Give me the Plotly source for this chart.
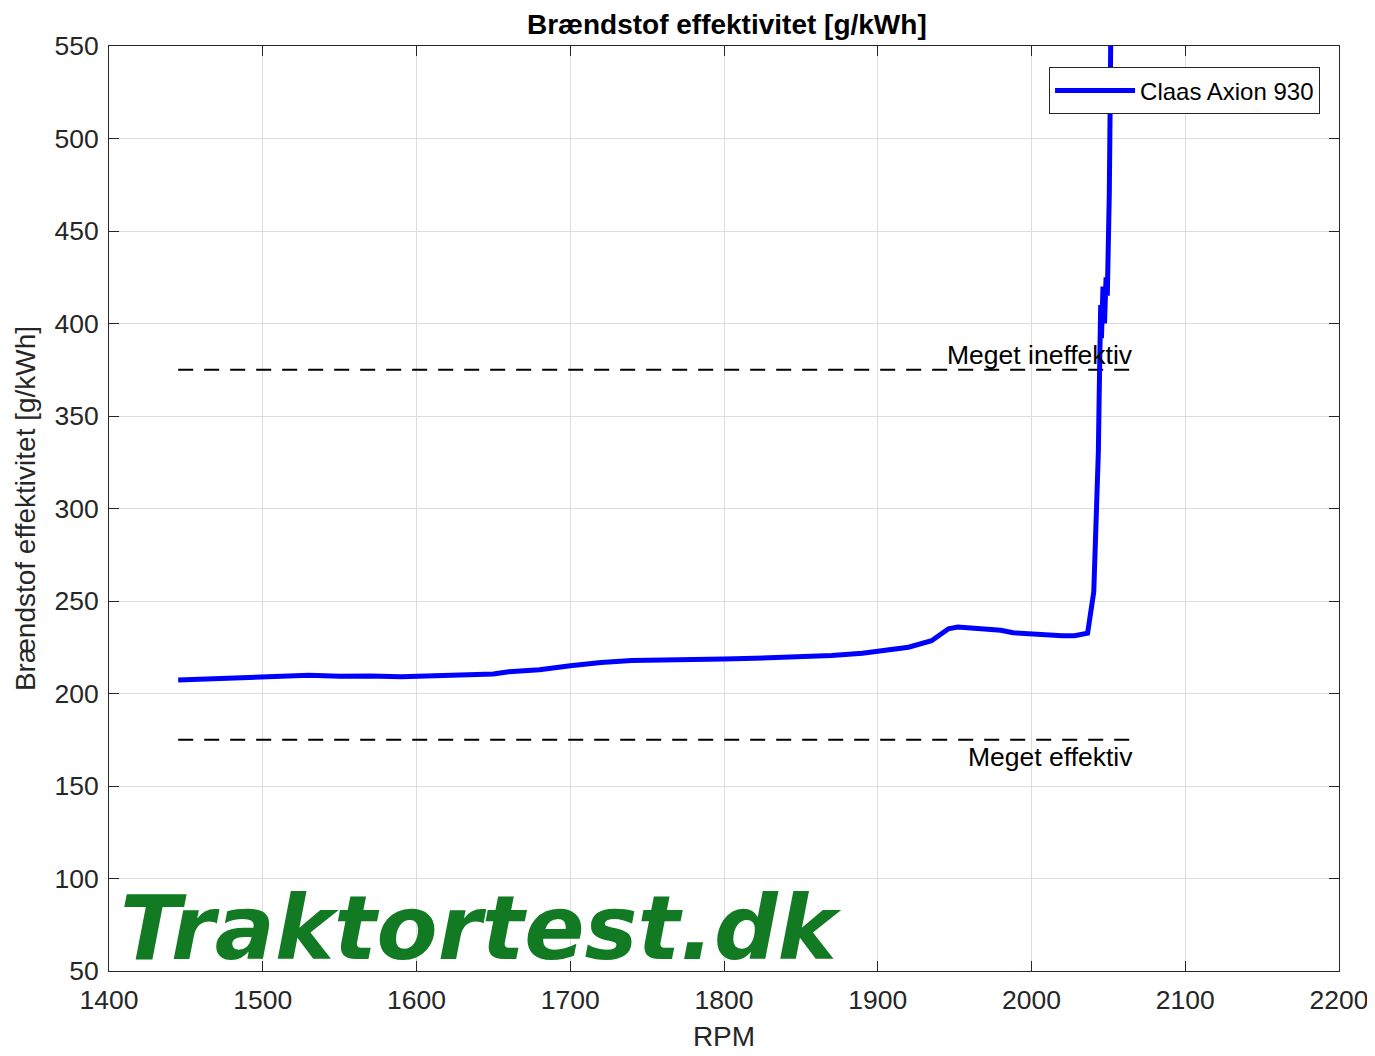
import plotly.graph_objects as go

# RPM and fuel efficiency
rpm = [1445, 1455, 1470, 1485, 1500, 1515, 1530, 1550, 1570, 1590, 1600, 1615,
       1630, 1650, 1660, 1680, 1700, 1720, 1740, 1760, 1780, 1800, 1820, 1850,
       1870, 1890, 1905, 1920, 1935, 1941, 1946, 1952, 1960, 1970, 1980, 1988,
       2000, 2010, 2020, 2028, 2033, 2036.5, 2040.5, 2042.5, 2043.5, 2044,
       2045, 2045.5, 2046.5, 2047.5, 2048.5, 2049.3, 2050, 2050.6, 2051.3, 2052]
bsfc = [207.3, 207.6, 208.3, 208.4, 208.8, 209.6, 209.8, 209.3, 209.5, 209.0, 209.3, 209.6,
        210.3, 210.6, 211.8, 212.8, 215.0, 216.8, 217.8, 217.9, 218.2, 218.6, 219.0, 219.8,
        220.5, 221.8, 223.2, 225.0, 228.5, 232.5, 235.0, 235.9, 235.3, 234.9, 234.2, 232.8,
        232.0, 231.6, 231.2, 231.2, 231.8, 232.6, 255.0, 300.0, 331.0, 360.0,
        410.0, 392.0, 420.0, 400.0, 425.0, 415.0, 440.0, 470.0, 530.0, 600.0]

ref_rpm = [1445, 2067]
ineffektiv = [375, 375]
effektiv = [175, 175]

fig = go.Figure()

fig.add_trace(go.Scatter(x=ref_rpm, y=ineffektiv, mode='lines', showlegend=False,
                         line=dict(color='black', width=2, dash='15px,11px')))
fig.add_trace(go.Scatter(x=ref_rpm, y=effektiv, mode='lines', showlegend=False,
                         line=dict(color='black', width=2, dash='15px,11px')))
fig.add_trace(go.Scatter(x=rpm, y=bsfc, mode='lines', name='Claas Axion 930',
                         line=dict(color='#0000ff', width=5)))

fig.add_annotation(x=ref_rpm[1], y=ineffektiv[0], text='Meget ineffektiv', showarrow=False,
                   xanchor='right', yanchor='bottom', yshift=-2,
                   font=dict(size=26.5, color='black'))
fig.add_annotation(x=ref_rpm[1], y=effektiv[0], text='Meget effektiv', showarrow=False,
                   xanchor='right', yanchor='top', yshift=0,
                   font=dict(size=26.5, color='black'))

# watermark
fig.add_annotation(x=0.0076, y=-0.012, xref='paper', yref='paper', xanchor='left', yanchor='bottom',
                   text='Traktortest.dk', showarrow=False,
                   font=dict(family='DejaVu Sans', size=89, color='#117a22',
                             weight='bold', style='italic'))

axis_common = dict(showgrid=True, gridcolor='#dcdcdc', gridwidth=1, zeroline=False,
                   showline=True, linecolor='#262626', linewidth=1, mirror='ticks',
                   ticks='inside', ticklen=10, tickcolor='#262626', automargin=False,
                   ticklabeloverflow='allow',
                   tickfont=dict(size=26.5, color='#262626'))

fig.update_xaxes(range=[1400, 2200], dtick=100, ticklabelstandoff=5,
                 title=dict(text='RPM', font=dict(size=28, color='#262626'), standoff=12),
                 **axis_common)
fig.update_yaxes(range=[50, 550], dtick=50, ticklabelstandoff=4,
                 title=dict(text='Brændstof effektivitet [g/kWh]',
                            font=dict(size=28, color='#262626'), standoff=10), **axis_common)

# page body adds an 8px margin, so the figure is sized to fit inside the window
fig.update_layout(
    width=1364, height=1046,
    paper_bgcolor='white', plot_bgcolor='white',
    font=dict(family='Liberation Sans, Arial, sans-serif', color='black'),
    title=dict(text='<b>Brændstof effektivitet [g/kWh]</b>', x=0.527, xanchor='center',
               y=0.9848, yanchor='middle', automargin=False, font=dict(size=28, color='black')),
    margin=dict(l=101, r=33, t=38, b=83),
    legend=dict(x=0.9846, y=0.977, xanchor='right', yanchor='top', bgcolor='white',
                bordercolor='#262626', borderwidth=1, itemwidth=80,
                font=dict(size=24, color='black')),
    showlegend=True,
)

fig.write_html("out.html")
